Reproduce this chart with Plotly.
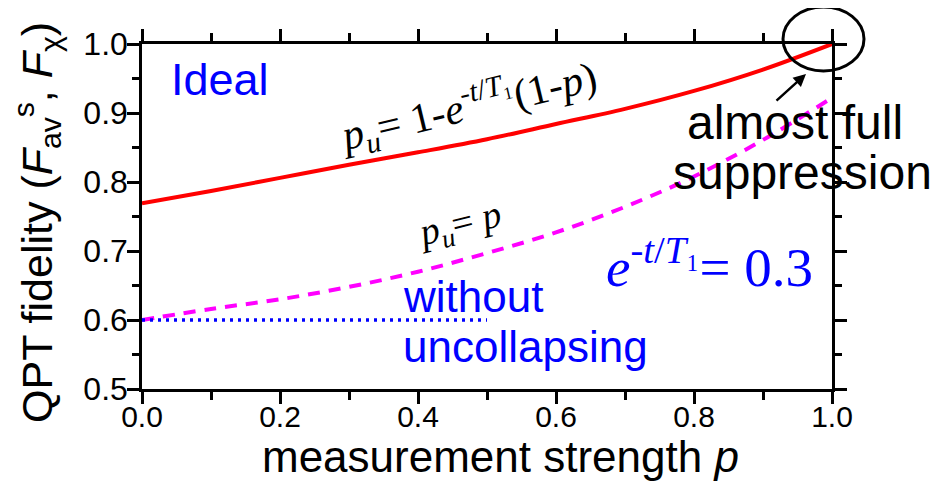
import plotly.graph_objects as go

# ---- data ----
p_vals = [0.0, 0.1, 0.2, 0.3, 0.4, 0.5, 0.6, 0.7, 0.8, 0.9, 1.0]
f_ideal = [0.769, 0.787, 0.806, 0.825, 0.843, 0.862, 0.884, 0.906, 0.932, 0.963, 1.0]
f_pu_eq_p = [0.600, 0.616, 0.630, 0.648, 0.670, 0.697, 0.727, 0.764, 0.808, 0.861, 0.922]
p_without = [0.0, 0.5]
f_without = [0.6, 0.6]
x_ticks = [0.0, 0.2, 0.4, 0.6, 0.8, 1.0]
x_ticklabels = ["0.0", "0.2", "0.4", "0.6", "0.8", "1.0"]
y_ticks = [0.5, 0.6, 0.7, 0.8, 0.9, 1.0]
y_ticklabels = ["0.5", "0.6", "0.7", "0.8", "0.9", "1.0"]

# page has an 8px body margin; compensate
OFF = 8
W, H = 949 - OFF, 481 - OFF
L, R, T, B = 142, 832, 44, 389  # screen pixels of plot area


def px(x):
    return (x - L) / (R - L)


def py(y):
    return (B - y) / (B - T)


SANS = "Liberation Sans, Arial, sans-serif"
SERIF = "Liberation Serif, Times New Roman, serif"

fig = go.Figure()
fig.add_trace(go.Scatter(x=p_vals, y=f_ideal, mode="lines", line=dict(color="#FF0000", width=4, shape="spline"), hoverinfo="skip"))
fig.add_trace(go.Scatter(x=p_vals, y=f_pu_eq_p, mode="lines", line=dict(color="#FF00FF", width=4, dash="12px,9px", shape="spline"), hoverinfo="skip"))
fig.add_trace(go.Scatter(x=p_without, y=f_without, mode="lines", line=dict(color="#0000FF", width=3.5, dash="3px,5px"), hoverinfo="skip"))

axis_common = dict(
    showgrid=False, zeroline=False, showline=True, linecolor="black", linewidth=2.5,
    ticks="outside", ticklen=12, tickwidth=2.5, tickcolor="black", mirror="ticks",
)
fig.update_xaxes(range=[0, 1], tickvals=x_ticks, ticktext=x_ticklabels, ticklabelstandoff=-13,
                 tickfont=dict(family=SANS, size=30, color="black"),
                 minor=dict(dtick=0.1, ticks="outside", ticklen=8, tickwidth=2.5, tickcolor="black"),
                 **axis_common)
fig.update_yaxes(range=[0.5, 1.0], tickvals=y_ticks, ticktext=y_ticklabels, ticklabelstandoff=-7,
                 tickfont=dict(family=SANS, size=32, color="black"),
                 minor=dict(dtick=0.05, ticks="outside", ticklen=7, tickwidth=2.5, tickcolor="black"),
                 **axis_common)

annotations = [
    # axis titles
    dict(x=px(37), y=py(223), text="QPT fidelity (<i>F</i><sub>av</sub><sup>s</sup>, <i>F</i><sub>χ</sub>)",
         textangle=-90, font=dict(family=SANS, size=43, color="black")),
    dict(x=px(501), y=py(457), text="measurement strength <i>p</i>",
         font=dict(family=SANS, size=44, color="black")),
    # labels
    dict(x=px(220), y=py(80), text="Ideal", font=dict(family=SANS, size=45, color="#0000FF")),
    dict(x=px(401), y=py(296), text="without", xanchor="left", font=dict(family=SANS, size=44, color="#0000FF")),
    dict(x=px(401), y=py(346), text="uncollapsing", xanchor="left", font=dict(family=SANS, size=44, color="#0000FF")),
    dict(x=px(795), y=py(122), text="almost full", font=dict(family=SANS, size=48, color="black")),
    dict(x=px(802), y=py(173), text="suppression", font=dict(family=SANS, size=48, color="black")),
    dict(x=px(467), y=py(106), textangle=-13.5,
         text="<i>p</i><sub><i>u</i></sub>= 1-<i>e</i><sup>-<i>t</i>/<i>T</i>₁</sup>(1-<i>p</i>)",
         font=dict(family=SERIF, size=42, color="black")),
    dict(x=px(459), y=py(226), textangle=-14,
         text="<i>p</i><sub><i>u</i></sub>= <i>p</i>",
         font=dict(family=SERIF, size=38, color="black")),
    dict(x=px(709), y=py(264),
         text="<i>e</i><sup>-<i>t</i>/<i>T</i>₁</sup>= 0.3",
         font=dict(family=SERIF, size=55, color="#0000FF")),
    # arrow
    dict(x=px(806), y=py(74), ax=-31, ay=28, text="", showarrow=True,
         arrowhead=2, arrowsize=1, arrowwidth=2.5, arrowcolor="black"),
]
for a in annotations:
    a.setdefault("xref", "paper")
    a.setdefault("yref", "paper")
    a.setdefault("showarrow", False)
    a.setdefault("xanchor", "center")
    a.setdefault("yanchor", "middle")
fig.update_layout(annotations=annotations)

fig.add_shape(type="circle", xref="paper", yref="paper",
              x0=px(783), x1=px(864), y0=py(71), y1=py(7),
              line=dict(color="black", width=3))

fig.update_layout(
    width=W, height=H,
    margin=dict(l=L - OFF, r=W - (R - OFF), t=T - OFF, b=H - (B - OFF), pad=0),
    plot_bgcolor="white", paper_bgcolor="white",
    showlegend=False,
)

fig.write_html("out.html")
